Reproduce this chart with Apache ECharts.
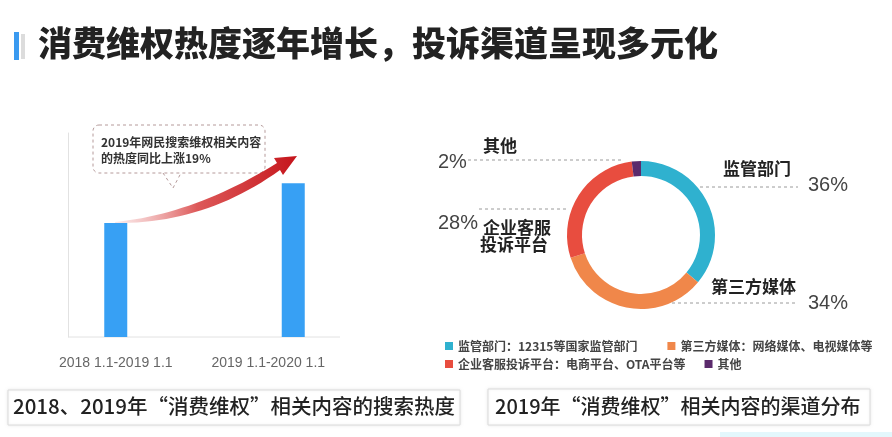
<!DOCTYPE html>
<html>
<head>
<meta charset="utf-8">
<script src="https://cdn.jsdelivr.net/npm/echarts@6/dist/echarts.min.js"></script>
<style>
  html, body { margin: 0; padding: 0; background: #fff; }
  #main { width: 892px; height: 437px; }
</style>
</head>
<body>
<div id="main"></div>
<script>
// 搜索热度（相对值，从柱高读出）
const periods = ['2018 1.1-2019 1.1', '2019 1.1-2020 1.1'];
const heatValues = [100, 135];

// 2019 渠道分布
const channels = ['监管部门', '第三方媒体', '企业客服投诉平台', '其他'];
const channelShares = [36, 34, 28, 2];
const channelNotes = ['12315等国家监管部门', '网络媒体、电视媒体等', '电商平台、OTA平台等', ''];
const channelColors = ['#2fb1cf', '#f0874a', '#e84d3f', '#5b2a6c'];

const CJK = '"Noto Sans CJK SC", sans-serif';
const NUM = '"Liberation Sans", "Noto Sans CJK SC", sans-serif';

// label text per slice
function sliceLabel(i, name, val) {
  const p = '{p|' + val + '%}';
  if (i === 0) return '{n|' + name + '}\n{g0|}' + p;
  if (i === 1) return '{n|' + name + '}\n{g1|}' + p;
  if (i === 2) return p + '{n2|' + name.slice(0, 4) + '}\n{g2|}{n3|' + name.slice(4) + '}';
  return '{g3|}{n|' + name + '}\n' + p;
}
// where labels sit and how the dashed leader runs
const labelSpots = [
  { x: 723, y: 161, line: [[700, 187], [750, 187], [798, 187]] },
  { x: 711, y: 279, line: [[672, 303], [735, 303], [798, 303]] },
  { x: 438, y: 213, line: [[566, 209], [520, 209], [477, 209]] },
  { x: 438, y: 138, line: [[621, 160], [540, 160], [468, 160]] }
];

// curved arrow outline (decoration only)
function quad(p0, c, p1, n) {
  const out = [];
  for (let k = 0; k <= n; k++) {
    const t = k / n, u = 1 - t;
    out.push([u * u * p0[0] + 2 * u * t * c[0] + t * t * p1[0], u * u * p0[1] + 2 * u * t * c[1] + t * t * p1[1]]);
  }
  return out;
}
const arrowPts = quad([115, 222], [195, 214], [277, 163], 24)
  .concat([[274, 158], [297, 156], [283, 175]])
  .concat(quad([280, 170], [205, 224], [115, 223], 24));

const chart = echarts.init(document.getElementById('main'));

const option = {
  backgroundColor: '#fff',
  animation: false,
  textStyle: { fontFamily: CJK },
  grid: { left: 27, right: 510, top: 133, bottom: 100 },
  xAxis: {
    type: 'category',
    data: [
      { value: periods[0] },
      { value: periods[1], textStyle: { padding: [0, 50, 0, 0] } }
    ],
    axisLine: { show: false },
    axisTick: { show: false },
    axisLabel: { color: '#666', fontSize: 14, fontFamily: NUM, margin: 19 }
  },
  yAxis: {
    type: 'value',
    min: 0,
    max: 179,
    offset: -41,
    axisLine: { show: true, lineStyle: { color: '#e2e2e2' } },
    axisTick: { show: false },
    axisLabel: { show: false },
    splitLine: { show: false }
  },
  legend: [
    {
      data: channels.slice(0, 2),
      left: 440, top: 335,
      icon: 'rect', itemWidth: 8, itemHeight: 8, itemGap: 30,
      selectedMode: false,
      formatter: name => name + '：' + channelNotes[channels.indexOf(name)],
      textStyle: { fontSize: 12, fontWeight: 'bold', color: '#444', fontFamily: CJK }
    },
    {
      data: channels.slice(2),
      left: 440, top: 353,
      icon: 'rect', itemWidth: 8, itemHeight: 8, itemGap: 19,
      selectedMode: false,
      formatter: name => {
        const note = channelNotes[channels.indexOf(name)];
        return note ? name + '：' + note : name;
      },
      textStyle: { fontSize: 12, fontWeight: 'bold', color: '#444', fontFamily: CJK }
    }
  ],
  series: [
    {
      type: 'bar',
      data: heatValues,
      barWidth: 23,
      itemStyle: { color: '#37a0f4' }
    },
    {
      type: 'pie',
      center: [641, 235],
      radius: [59, 74],
      startAngle: 90,
      clockwise: true,
      data: channels.map((n, i) => ({ name: n, value: channelShares[i], itemStyle: { color: channelColors[i] } })),
      label: {
        show: true,
        position: 'outside',
        formatter: p => sliceLabel(p.dataIndex, p.name, p.value),
        rich: {
          n: { fontSize: 17, fontWeight: 'bold', color: '#222', fontFamily: CJK, lineHeight: 16 },
          n2: { fontSize: 17, fontWeight: 'bold', color: '#222', fontFamily: CJK, lineHeight: 20, padding: [10, 0, 0, 5] },
          n3: { fontSize: 17, fontWeight: 'bold', color: '#222', fontFamily: CJK, lineHeight: 24 },
          p: { fontSize: 20, color: '#444', fontFamily: NUM, lineHeight: 16 },
          g0: { width: 85 },
          g1: { width: 97 },
          g2: { width: 42 },
          g3: { width: 45 }
        }
      },
      labelLine: { show: true, lineStyle: { color: '#9a9a9a', width: 1, type: [3, 3] } },
      labelLayout: params => {
        const s = labelSpots[params.dataIndex];
        return { x: s.x, y: s.y, align: 'left', verticalAlign: 'top', labelLinePoints: s.line };
      },
      emphasis: { disabled: true }
    }
  ],
  graphic: [
    // title
    { type: 'rect', shape: { x: 14, y: 32, width: 5, height: 28 }, style: { fill: '#3a9af0' } },
    { type: 'rect', shape: { x: 21, y: 34, width: 4, height: 25 }, style: { fill: '#dcdcdc' } },
    {
      type: 'text', x: 38, y: 26,
      style: { text: '消费维权热度逐年增长，投诉渠道呈现多元化', font: '900 34px "Noto Sans CJK SC"', fill: '#222' }
    },
    // x axis line of the bar chart
    { type: 'line', shape: { x1: 68, y1: 337, x2: 340, y2: 337 }, style: { stroke: '#e2e2e2', lineWidth: 1 } },
    // callout
    {
      type: 'rect', shape: { x: 93, y: 125, width: 172, height: 48, r: 6 },
      style: { fill: 'none', stroke: '#b59a9a', lineWidth: 1, lineDash: [3, 3] }
    },
    {
      type: 'polyline', shape: { points: [[163, 173], [173, 188], [181, 173]] },
      style: { fill: 'none', stroke: '#b59a9a', lineWidth: 1, lineDash: [3, 3] }
    },
    {
      type: 'text', x: 101, y: 134,
      style: {
        text: '2019年网民搜索维权相关内容\n的热度同比上涨19%',
        font: 'bold 12px "Noto Sans CJK SC"', fill: '#333', lineHeight: 16
      }
    },
    // red growth arrow
    {
      type: 'polygon',
      shape: { points: arrowPts },
      style: {
        fill: new echarts.graphic.LinearGradient(0, 0, 1, 0, [
          { offset: 0, color: 'rgba(235,150,150,0.2)' },
          { offset: 0.45, color: 'rgba(215,60,60,0.85)' },
          { offset: 1, color: '#c5141b' }
        ])
      }
    },
    // captions
    {
      type: 'rect', shape: { x: 8, y: 390, width: 452, height: 35 },
      style: { fill: '#fff', stroke: '#dcdcdc', lineWidth: 1, shadowBlur: 3, shadowColor: 'rgba(0,0,0,0.08)' }
    },
    {
      type: 'text', x: 13, y: 396,
      style: { text: '2018、2019年“消费维权”相关内容的搜索热度', font: '500 20.5px "Noto Sans CJK SC"', fill: '#222' }
    },
    {
      type: 'rect', shape: { x: 488, y: 389, width: 382, height: 36 },
      style: { fill: '#fff', stroke: '#dcdcdc', lineWidth: 1, shadowBlur: 3, shadowColor: 'rgba(0,0,0,0.08)' }
    },
    {
      type: 'text', x: 495, y: 396,
      style: { text: '2019年“消费维权”相关内容的渠道分布', font: '500 20px "Noto Sans CJK SC"', fill: '#222' }
    },
    { type: 'rect', shape: { x: 720, y: 432, width: 172, height: 5 }, style: { fill: '#e3f7fc' } }
  ]
};

chart.setOption(option);
</script>
</body>
</html>
